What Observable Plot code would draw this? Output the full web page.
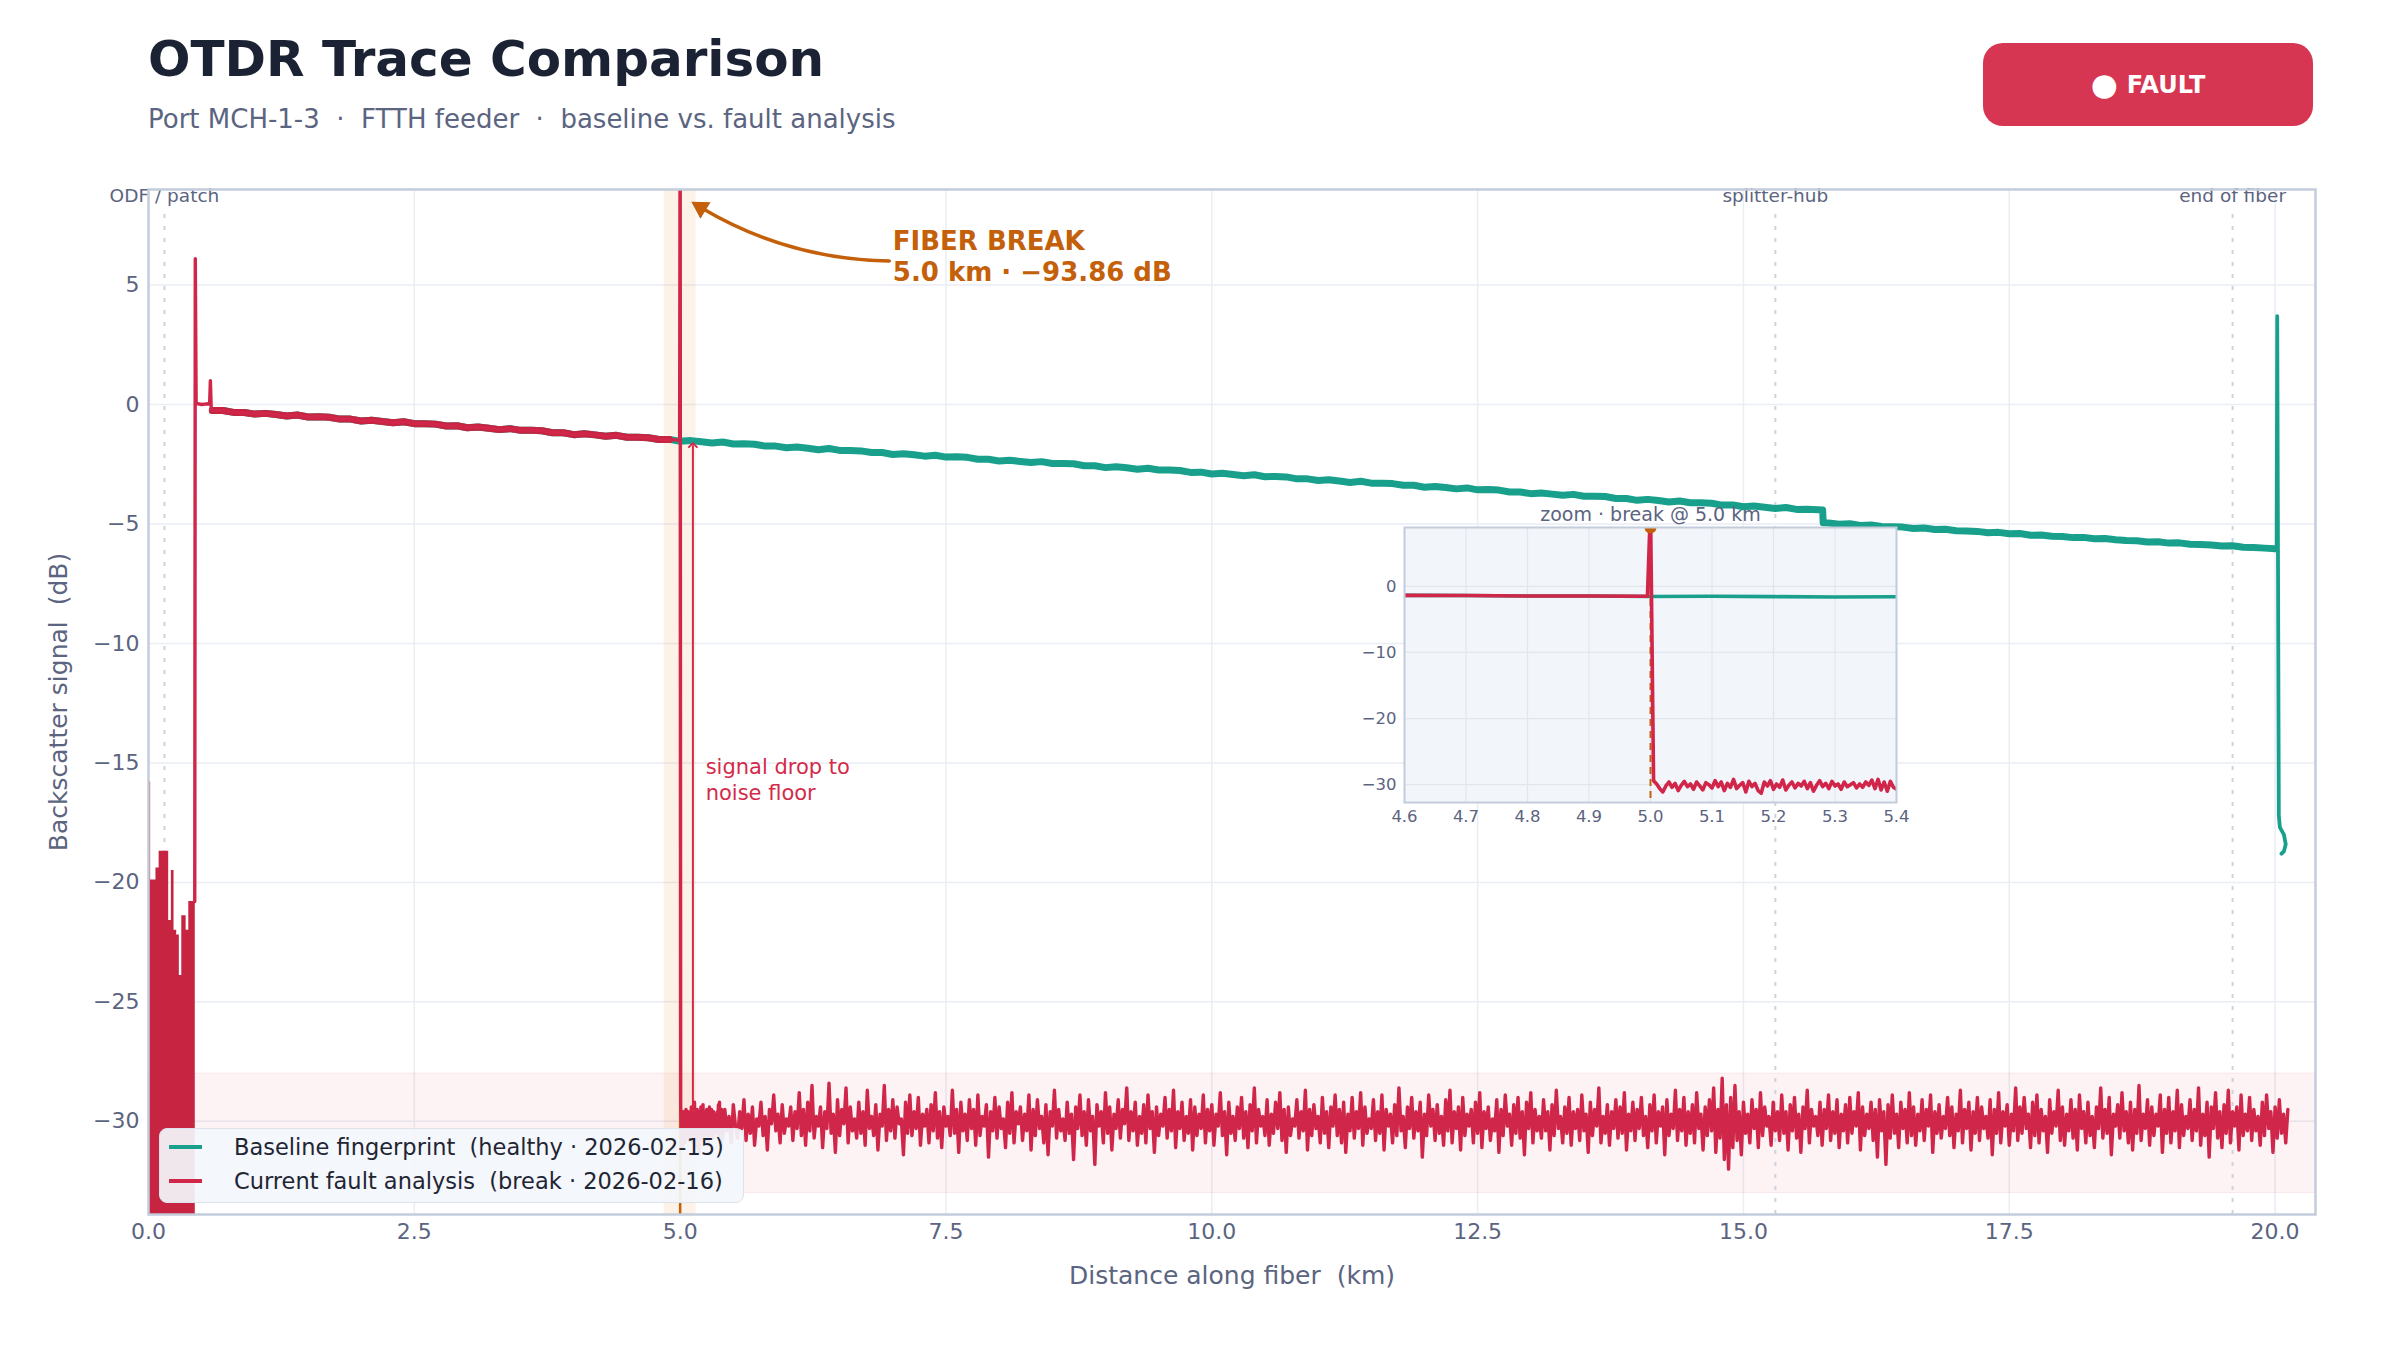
<!DOCTYPE html>
<html>
<head>
<meta charset="utf-8">
<script src="https://cdn.jsdelivr.net/npm/d3@7"></script>
<script src="https://cdn.jsdelivr.net/npm/@observablehq/plot@0.6"></script>
<style>
  html, body { margin: 0; padding: 0; background: #ffffff; }
  #page { position: relative; width: 2400px; height: 1350px; overflow: hidden; font-family: "DejaVu Sans", sans-serif; }
  #title { position: absolute; left: 148px; top: 34px; font-size: 50px; line-height: 50px; font-weight: bold; color: #1b2233; white-space: nowrap; }
  #subtitle { position: absolute; left: 148px; top: 106px; font-size: 26px; line-height: 26px; color: #5b6480; white-space: pre; }
  #badge { position: absolute; left: 1983px; top: 43px; width: 330px; height: 83px; border-radius: 20px; background: #d63651; color: #ffffff; font-weight: bold; font-size: 24px; display: flex; align-items: center; justify-content: center; white-space: pre; }
  #badge .dot { font-size: 31px; line-height: 24px; margin-right: 9px; position: relative; top: -1px; }
  #chart { position: absolute; left: 0; top: 150px; }
  #inset { position: absolute; left: 1354px; top: 497px; }
  #legend { position: absolute; left: 159px; top: 1128px; width: 583px; height: 73px; border: 1.5px solid #dde3ec; border-radius: 8px; background: rgba(243, 246, 251, 0.93); }
  #legend .row { position: absolute; left: 0; height: 34px; line-height: 34px; font-size: 22.5px; color: #1f2533; white-space: pre; }
  #legend .swatch { position: absolute; left: 9px; top: 15px; width: 33px; height: 4px; }
  #legend .label { position: absolute; left: 74px; top: 0; }
</style>
</head>
<body>
<div id="page">
  <div id="title"></div>
  <div id="subtitle"></div>
  <div id="badge"></div>
  <div id="chart"></div>
  <div id="inset"></div>
  <div id="legend"></div>
</div>
<script>
// ---- text ----
const titleText = "OTDR Trace Comparison";
const subtitleText = "Port MCH-1-3  ·  FTTH feeder  ·  baseline vs. fault analysis";
const statusDot = "●";
const statusText = "FAULT";
const seriesNames = [
  "Baseline fingerprint  (healthy · 2026-02-15)",
  "Current fault analysis  (break · 2026-02-16)"
];
const xLabel = "Distance along fiber  (km)";
const yLabel = "Backscatter signal  (dB)";
const breakCallout = "FIBER BREAK\n5.0 km · −93.86 dB";
const dropCallout = "signal drop to\nnoise floor";
const insetTitle = "zoom · break @ 5.0 km";

// ---- axes ----
const xTicks = [0, 2.5, 5, 7.5, 10, 12.5, 15, 17.5, 20];
const yTicks = [5, 0, -5, -10, -15, -20, -25, -30];
const insetXTicks = [4.6, 4.7, 4.8, 4.9, 5.0, 5.1, 5.2, 5.3, 5.4];
const insetYTicks = [0, -10, -20, -30];

// ---- landmarks along the route ----
const landmarkKm = [0.15, 15.3, 19.6];
const landmarkNames = ["ODF / patch", "splitter-hub", "end of fiber"];

// ---- fault location ----
const breakKm = 5.0;
const breakWindowKm = [4.85, 5.15];
const noiseFloorBandDb = [-33, -28];

// ---- callout anchors (km, dB) ----
const breakCalloutAt = {km: 7.0, db: 6.23};
const breakArrow = {fromKm: 6.967, fromDb: 6.01, toKm: 5.194, toDb: 8.245};
const dropArrow = {km: 5.12, fromDb: -29.6, toDb: -1.7};
const dropCalloutAt = {km: 5.24, db: -15.66};

// ---- launch dead zone (sample km, envelope dB) ----
const deadZoneKm = [0, 0.02, 0.07, 0.10, 0.19, 0.215, 0.24, 0.265, 0.29, 0.313, 0.354, 0.379, 0.44];
const deadZoneDb = [-15.8, -19.9, -19.4, -18.7, -21.6, -19.5, -22.0, -22.2, -23.9, -21.4, -22.0, -20.8, -20.8];

// ---- launch connector events (km, dB) ----
const launchKm = [0.435, 0.44, 0.448, 0.50, 0.55, 0.575, 0.582, 0.59];
const launchDb = [-20.8, 6.1, 0.05, 0.0, 0.03, 0.02, 1.0, -0.22];

// ---- fibre backscatter, 0.6 km to 15.7 km, one sample every 0.1 km ----
const spanAStartKm = 0.6;
const spanAStepKm = 0.1;
const spanADb = [
  -0.25,-0.25,-0.33,-0.33,-0.40,-0.37,-0.42,-0.48,-0.44,-0.52,
  -0.51,-0.53,-0.61,-0.61,-0.69,-0.66,-0.71,-0.76,-0.72,-0.80,
  -0.80,-0.82,-0.90,-0.89,-0.97,-0.94,-0.99,-1.05,-1.01,-1.08,
  -1.08,-1.10,-1.18,-1.18,-1.26,-1.22,-1.27,-1.33,-1.29,-1.37,
  -1.37,-1.39,-1.46,-1.46,-1.54,-1.51,-1.56,-1.61,-1.57,-1.65,
  -1.64,-1.66,-1.74,-1.74,-1.81,-1.78,-1.83,-1.89,-1.84,-1.92,
  -1.92,-1.94,-2.01,-2.01,-2.09,-2.06,-2.10,-2.16,-2.12,-2.20,
  -2.19,-2.21,-2.29,-2.29,-2.36,-2.33,-2.38,-2.43,-2.39,-2.47,
  -2.47,-2.48,-2.56,-2.56,-2.64,-2.60,-2.65,-2.71,-2.67,-2.74,
  -2.74,-2.76,-2.84,-2.83,-2.91,-2.88,-2.93,-2.98,-2.94,-3.02,
  -3.01,-3.03,-3.11,-3.11,-3.18,-3.15,-3.20,-3.26,-3.21,-3.29,
  -3.29,-3.31,-3.38,-3.38,-3.46,-3.43,-3.47,-3.53,-3.49,-3.57,
  -3.56,-3.58,-3.66,-3.66,-3.73,-3.70,-3.75,-3.80,-3.76,-3.84,
  -3.84,-3.85,-3.93,-3.93,-4.01,-3.97,-4.02,-4.08,-4.04,-4.11,
  -4.11,-4.13,-4.21,-4.20,-4.28,-4.25,-4.30,-4.35,-4.31,-4.39,
  -4.38,-4.40
];

// ---- splitter-hub step (km, dB) ----
const splitterKm = [15.745, 15.75];
const splitterDb = [-4.41, -4.95];

// ---- fibre backscatter after the splitter, 15.8 km to 20.0 km ----
const spanBStartKm = 15.8;
const spanBStepKm = 0.1;
const spanBDb = [
  -4.96,-5.01,-4.99,-5.06,-5.04,-5.10,-5.11,-5.13,-5.19,-5.17,
  -5.23,-5.22,-5.28,-5.29,-5.31,-5.37,-5.35,-5.41,-5.40,-5.47,
  -5.46,-5.51,-5.52,-5.57,-5.56,-5.62,-5.61,-5.66,-5.69,-5.70,
  -5.75,-5.74,-5.80,-5.79,-5.85,-5.86,-5.88,-5.92,-5.91,-5.97,
  -5.98,-6.01,-6.04
];

// ---- far-end reflection of the healthy fibre (km, dB) ----
const fiberEndKm = [20.015, 20.02, 20.035, 20.045, 20.083, 20.1, 20.083, 20.06];
const fiberEndDb = [-6.08, 3.7, -17.2, -17.7, -18.0, -18.4, -18.7, -18.8];

// ---- break event on the current trace (km, dB) ----
const breakEventKm = [4.995, 5.0];
const breakEventDb = [-1.50, 12.0];

// ---- noise floor just past the break, 5.005 km to 5.400 km every 0.005 km ----
const nearFloorStartKm = 5.005;
const nearFloorStepKm = 0.005;
const nearFloorDb = [
  -29.4,-29.9,-30.6,-31.1,-30.2,-29.6,-30.4,-29.8,-30.9,-30.1,
  -29.5,-30.3,-29.9,-30.7,-29.6,-30.2,-30.8,-29.7,-30.0,-30.5,
  -29.4,-30.3,-29.6,-30.9,-29.8,-30.4,-29.2,-30.6,-30.1,-29.7,
  -31.1,-29.5,-30.3,-29.8,-30.9,-31.3,-29.6,-30.2,-29.4,-30.7,
  -29.9,-30.4,-29.3,-30.8,-30.1,-29.6,-30.5,-29.8,-30.2,-29.5,
  -30.6,-29.7,-31.0,-30.1,-29.4,-30.3,-29.8,-30.6,-29.5,-30.2,
  -29.9,-30.7,-29.6,-30.3,-30.0,-29.7,-30.5,-29.9,-30.4,-29.6,
  -30.1,-29.3,-30.6,-29.2,-30.8,-29.6,-31.0,-29.5,-30.4,-30.7
];

// ---- noise floor to the end of the record, 5.42 km to 20.12 km every 0.02 km ----
const farFloorStartKm = 5.42;
const farFloorStepKm = 0.02;
const farFloorDb = [
  -29.5,-30.4,-29.8,-30.9,-29.3,-30.2,-30.7,-29.6,-30.3,-29.1,-30.8,-29.7,-30.5,-29.4,-31.0,-29.9,
  -30.2,-29.2,-30.6,-29.8,-31.2,-29.5,-30.1,-28.9,-30.4,-29.7,-30.9,-29.3,-30.5,-29.9,-30.2,-29.4,
  -30.8,-29.6,-30.3,-28.8,-30.6,-29.5,-31.0,-29.2,-30.4,-28.5,-30.7,-29.8,-30.2,-29.4,-31.1,-29.6,
  -30.3,-28.4,-30.5,-29.7,-31.3,-29.1,-30.6,-29.5,-30.1,-28.6,-30.9,-29.4,-30.4,-29.9,-30.7,-29.2,
  -30.5,-29.6,-31.0,-28.7,-30.3,-29.8,-30.6,-29.3,-31.2,-29.7,-30.2,-28.5,-30.8,-29.5,-30.4,-29.1,
  -30.7,-29.4,-30.1,-29.9,-31.4,-29.2,-30.5,-28.9,-30.6,-29.6,-30.3,-29.0,-31.0,-29.7,-30.2,-29.5,
  -30.9,-29.3,-30.4,-28.8,-30.7,-29.6,-31.1,-29.4,-30.2,-29.8,-30.6,-28.7,-30.5,-29.5,-31.3,-29.2,
  -30.4,-29.7,-30.8,-29.1,-30.3,-29.5,-31.0,-28.9,-30.6,-29.8,-30.2,-29.3,-31.5,-29.6,-30.4,-29.0,
  -30.7,-29.4,-30.3,-29.9,-31.1,-29.2,-30.5,-28.8,-30.9,-29.6,-30.1,-29.4,-30.8,-29.7,-30.4,-28.9,
  -31.2,-29.5,-30.6,-29.1,-30.3,-29.8,-30.9,-29.3,-31.4,-29.6,-30.2,-28.7,-30.7,-29.5,-30.4,-29.9,
  -30.8,-29.2,-30.5,-29.7,-31.6,-29.4,-30.3,-28.9,-30.6,-29.6,-31.0,-29.1,-30.4,-29.8,-31.8,-29.3,
  -30.2,-29.6,-30.9,-28.8,-30.5,-29.4,-31.2,-29.7,-30.3,-29.1,-30.7,-29.5,-30.1,-28.6,-30.8,-29.6,
  -30.4,-29.2,-31.0,-29.8,-30.5,-29.3,-30.9,-28.9,-30.3,-29.6,-31.3,-29.4,-30.6,-29.7,-30.2,-29.0,
  -30.7,-29.5,-30.4,-28.7,-31.1,-29.6,-30.3,-29.2,-30.8,-29.8,-30.5,-29.1,-31.2,-29.4,-30.6,-29.7,
  -30.3,-28.9,-30.9,-29.5,-30.4,-29.3,-31.0,-29.7,-30.2,-28.8,-30.6,-29.6,-31.4,-29.2,-30.5,-29.8,
  -30.8,-29.4,-30.3,-29.0,-30.7,-29.6,-31.1,-29.3,-30.4,-28.6,-30.9,-29.5,-30.2,-29.8,-30.6,-29.1,
  -31.0,-29.7,-30.5,-29.2,-30.3,-28.8,-30.8,-29.5,-31.3,-29.4,-30.6,-29.9,-30.2,-29.1,-30.7,-29.6,
  -30.4,-28.7,-31.2,-29.5,-30.6,-29.3,-30.3,-29.8,-30.9,-29.0,-30.5,-29.6,-31.1,-29.4,-30.2,-28.9,
  -30.6,-29.5,-30.9,-29.2,-31.3,-29.7,-30.4,-29.0,-30.7,-29.6,-30.3,-28.8,-31.0,-29.4,-30.5,-29.9,
  -30.3,-29.1,-30.8,-29.6,-30.5,-28.9,-31.2,-29.5,-30.2,-29.7,-30.9,-29.3,-30.6,-28.6,-30.4,-29.8,
  -31.1,-29.4,-30.3,-29.0,-30.7,-29.6,-30.4,-29.2,-31.5,-29.7,-30.6,-28.9,-30.2,-29.5,-30.8,-29.3,
  -30.5,-29.8,-31.0,-29.1,-30.4,-28.7,-30.9,-29.6,-30.3,-29.4,-31.2,-29.0,-30.6,-29.7,-30.2,-29.5,
  -30.9,-29.2,-30.5,-28.8,-31.1,-29.6,-30.3,-29.4,-30.8,-29.9,-30.4,-29.1,-31.3,-29.5,-30.6,-28.9,
  -30.2,-29.7,-31.0,-29.3,-30.5,-29.0,-30.7,-29.6,-31.4,-29.2,-30.3,-28.8,-30.9,-29.5,-30.4,-29.8,
  -30.7,-29.1,-30.4,-29.6,-31.2,-29.3,-30.6,-28.7,-30.3,-29.8,-30.9,-29.4,-30.5,-29.0,-31.0,-29.6,
  -30.3,-29.5,-30.8,-28.9,-30.4,-29.7,-31.3,-29.2,-30.6,-29.5,-30.2,-28.6,-30.9,-29.8,-30.5,-29.3,
  -31.0,-29.6,-30.3,-29.1,-30.7,-29.4,-30.5,-28.8,-31.2,-29.7,-30.4,-29.2,-30.8,-29.5,-30.3,-29.0,
  -30.6,-29.8,-31.1,-29.3,-30.4,-28.9,-30.9,-29.6,-30.2,-29.4,-31.4,-29.1,-30.6,-29.7,-30.3,-28.7,
  -30.8,-29.5,-30.4,-29.0,-31.0,-29.6,-30.5,-29.3,-30.9,-28.8,-30.3,-29.7,-31.2,-29.4,-30.6,-29.1,
  -30.4,-28.6,-31.3,-29.5,-30.7,-28.2,-31.6,-29.3,-32.0,-29.0,-31.1,-28.5,-30.8,-29.6,-31.4,-29.2,
  -30.5,-29.7,-30.9,-29.1,-30.3,-29.5,-31.1,-28.8,-30.6,-29.4,-30.2,-29.8,-31.0,-29.2,-30.4,-29.6,
  -30.8,-28.9,-30.5,-29.6,-31.2,-29.3,-30.4,-29.0,-30.7,-29.7,-31.3,-29.4,-30.3,-28.7,-30.9,-29.5,
  -30.2,-29.8,-30.6,-29.2,-31.0,-29.5,-30.3,-28.9,-30.8,-29.6,-30.5,-29.1,-31.1,-29.7,-30.4,-29.3,
  -30.9,-29.0,-30.5,-29.6,-30.2,-28.8,-31.2,-29.4,-30.6,-29.7,-30.3,-29.2,-30.8,-29.5,-31.5,-29.1,
  -30.4,-29.6,-31.8,-29.3,-30.7,-28.9,-30.5,-29.7,-31.1,-29.2,-30.3,-29.5,-30.9,-28.8,-30.6,-29.4,
  -31.0,-29.7,-30.4,-29.1,-30.8,-29.5,-30.2,-28.9,-31.3,-29.6,-30.5,-29.3,-30.7,-29.8,-30.3,-29.0,
  -30.6,-29.4,-31.1,-29.7,-30.4,-28.7,-30.9,-29.5,-30.3,-29.2,-31.2,-29.6,-30.5,-29.0,-30.8,-29.4,
  -30.3,-29.8,-30.7,-29.1,-31.4,-29.5,-30.5,-28.8,-30.9,-29.6,-30.2,-29.3,-31.0,-29.7,-30.4,-28.6,
  -30.8,-29.4,-30.5,-29.0,-30.3,-29.7,-31.1,-29.2,-30.6,-28.9,-30.9,-29.5,-30.4,-29.8,-31.3,-29.1,
  -30.5,-29.6,-30.2,-28.7,-30.8,-29.4,-31.0,-29.7,-30.4,-29.1,-30.7,-29.5,-31.2,-28.9,-30.3,-29.6,
  -30.9,-29.2,-30.6,-29.8,-31.1,-29.4,-30.3,-28.6,-30.7,-29.5,-30.5,-29.0,-31.4,-29.7,-30.2,-29.3,
  -30.7,-28.8,-30.4,-29.6,-30.9,-29.2,-31.2,-29.5,-30.5,-28.5,-30.8,-29.7,-30.3,-29.1,-31.0,-29.4,
  -30.6,-29.7,-30.2,-28.9,-31.3,-29.5,-30.5,-29.0,-30.9,-29.6,-30.4,-28.7,-31.1,-29.3,-30.6,-29.8,
  -30.3,-29.1,-30.8,-29.5,-30.4,-28.6,-31.0,-29.7,-30.6,-29.2,-31.5,-29.4,-30.3,-28.8,-30.7,-29.6,
  -31.1,-29.3,-30.5,-28.7,-30.9,-29.6,-30.2,-29.4,-31.2,-28.9,-30.6,-29.7,-30.4,-29.0,-30.8,-29.5,
  -30.4,-29.8,-31.0,-29.2,-30.6,-28.9,-30.3,-29.6,-31.3,-29.4,-30.7,-29.1,-30.5,-29.7,-30.9,-29.5
];

// ---- palette ----
const teal = "#19a08c";
const crimson = "#cf2649";
const deadZoneRed = "#c62441";
const amber = "#c4600a";
const slate = "#5b6480";
const gridColor = "#e9edf4";
const frameColor = "#c3ccdb";

// ---- assemble traces ----
const sampled = (start, step, values) => values.map((db, i) => ({km: +(start + i * step).toFixed(4), db}));
const paired = (kms, dbs) => kms.map((km, i) => ({km, db: dbs[i]}));

const spanA = sampled(spanAStartKm, spanAStepKm, spanADb);
const spanB = sampled(spanBStartKm, spanBStepKm, spanBDb);

const baselineTrace = [
  ...spanA,
  ...paired(splitterKm, splitterDb),
  ...spanB,
  ...paired(fiberEndKm, fiberEndDb)
];

const faultSpan = spanA.filter(d => d.km < breakEventKm[0]);
const faultTrace = [
  ...paired(launchKm, launchDb),
  ...faultSpan,
  ...paired(breakEventKm, breakEventDb),
  ...sampled(nearFloorStartKm, nearFloorStepKm, nearFloorDb),
  ...sampled(farFloorStartKm, farFloorStepKm, farFloorDb)
];

const deadZone = paired(deadZoneKm, deadZoneDb);
const landmarks = landmarkKm.map((km, i) => ({km, name: landmarkNames[i]}));

const xDomain = [0, 20.38];
const yDomain = [-33.9, 9.0];
const minus = d => (d < 0 ? "\u2212" + Math.abs(d) : String(d));

// ---- header ----
document.getElementById("title").textContent = titleText;
document.getElementById("subtitle").textContent = subtitleText;
const badge = document.getElementById("badge");
const dotSpan = document.createElement("span");
dotSpan.className = "dot";
dotSpan.textContent = statusDot;
badge.append(dotSpan, document.createTextNode(statusText));

// ---- main chart ----
const chart = Plot.plot({
  width: 2400,
  height: 1200,
  marginTop: 39,
  marginRight: 85,
  marginBottom: 136,
  marginLeft: 148,
  style: {fontFamily: "DejaVu Sans", fontSize: "22px", color: slate, background: "transparent", overflow: "visible"},
  x: {domain: xDomain},
  y: {domain: yDomain},
  marks: [
    Plot.gridX(xTicks, {stroke: gridColor, strokeOpacity: 1, strokeWidth: 1.5}),
    Plot.gridY(yTicks, {stroke: gridColor, strokeOpacity: 1, strokeWidth: 1.5}),
    Plot.rect([noiseFloorBandDb], {x1: xDomain[0], x2: xDomain[1], y1: d => d[0], y2: d => d[1], fill: "#d62c4a", fillOpacity: 0.06, stroke: "#d62c4a", strokeOpacity: 0.08}),
    Plot.rect([breakWindowKm], {x1: d => d[0], x2: d => d[1], y1: yDomain[0], y2: yDomain[1], fill: "#e8903a", fillOpacity: 0.12}),
    Plot.ruleX(landmarks, {x: "km", y1: yDomain[0], y2: 8.2, stroke: "#cdd3de", strokeWidth: 2, strokeDasharray: "4,8"}),
    Plot.text(landmarks, {x: "km", text: "name", frameAnchor: "top", lineAnchor: "top", dy: -1, fontSize: 18.5, fill: slate}),
    Plot.ruleX([breakKm], {stroke: amber, strokeWidth: 2.5}),
    // healthy trace: a wide pass for the backscatter spans, then the full trace
    Plot.line([...spanA, ...paired(splitterKm, splitterDb), ...spanB], {x: "km", y: "db", stroke: teal, strokeWidth: 7, clip: true}),
    Plot.line(baselineTrace, {x: "km", y: "db", stroke: teal, strokeWidth: 3.8, clip: true}),
    // current trace
    Plot.areaY(deadZone, {x: "km", y1: yDomain[0], y2: "db", curve: "step-after", fill: deadZoneRed, clip: true}),
    Plot.line(faultSpan, {x: "km", y: "db", stroke: deadZoneRed, strokeWidth: 7, clip: true}),
    Plot.line(faultTrace, {x: "km", y: "db", stroke: crimson, strokeWidth: 3.4, clip: true}),
    // callouts
    Plot.link([dropArrow], {x1: "km", x2: "km", y1: "fromDb", y2: "toDb", stroke: "#d42a4a", strokeWidth: 2, markerStart: "arrow", markerEnd: "arrow"}),
    Plot.text([dropCallout], {x: dropCalloutAt.km, y: dropCalloutAt.db, textAnchor: "start", lineAnchor: "middle", lineHeight: 1.24, fontSize: 21, fill: "#d42a4a"}),
    Plot.arrow([breakArrow], {x1: "fromKm", y1: "fromDb", x2: "toKm", y2: "toDb", bend: 15, stroke: amber, strokeWidth: 3.5, headLength: 0}),
    Plot.dot([breakArrow], {x: "toKm", y: "toDb", symbol: "triangle", r: 6.5, rotate: -58, fill: amber, stroke: amber, strokeWidth: 1}),
    Plot.text([breakCallout], {x: breakCalloutAt.km, y: breakCalloutAt.db, textAnchor: "start", lineAnchor: "middle", lineHeight: 1.19, fontSize: 26, fontWeight: "bold", fill: amber}),
    Plot.frame({stroke: frameColor, strokeWidth: 2.5}),
    Plot.axisX(xTicks, {tickSize: 0, tickPadding: 9, tickFormat: d3.format(".1f"), label: null, fontSize: 22}),
    Plot.axisY(yTicks, {tickSize: 0, tickPadding: 9, tickFormat: minus, label: null, fontSize: 22}),
    Plot.text([xLabel], {frameAnchor: "bottom", dy: 69, fontSize: 25, fill: slate}),
    Plot.text([yLabel], {frameAnchor: "left", textAnchor: "middle", dx: -90, rotate: -90, fontSize: 25, fill: slate})
  ]
});
document.getElementById("chart").append(chart);

// ---- inset: close-up of the break ----
const inWindow = d => d.km >= 4.55 && d.km <= 5.45;
const insetDomainY = [-32.7, 8.9];
const inset = Plot.plot({
  width: 562,
  height: 335,
  marginTop: 30,
  marginRight: 20,
  marginBottom: 30,
  marginLeft: 50,
  style: {fontFamily: "DejaVu Sans", fontSize: "16.5px", color: slate, background: "transparent", overflow: "visible"},
  x: {domain: [4.6, 5.4]},
  y: {domain: insetDomainY},
  marks: [
    Plot.frame({fill: "#f2f5fa"}),
    Plot.gridX(insetXTicks, {stroke: "#e1e6ee", strokeOpacity: 1, strokeWidth: 1.2}),
    Plot.gridY(insetYTicks, {stroke: "#e1e6ee", strokeOpacity: 1, strokeWidth: 1.2}),
    Plot.ruleX([breakKm], {stroke: amber, strokeWidth: 2, strokeDasharray: "7,5"}),
    Plot.line(baselineTrace.filter(inWindow), {x: "km", y: "db", stroke: teal, strokeWidth: 3.6, clip: true}),
    Plot.line(faultTrace.filter(inWindow), {x: "km", y: "db", stroke: "#d1264a", strokeWidth: 3.6, clip: true}),
    Plot.dot([breakKm], {x: d => d, y: insetDomainY[1], r: 6, fill: amber, clip: true}),
    Plot.frame({stroke: frameColor, strokeWidth: 2}),
    Plot.axisX(insetXTicks, {tickSize: 0, tickPadding: 8, tickFormat: d3.format(".1f"), label: null}),
    Plot.axisY(insetYTicks, {tickSize: 0, tickPadding: 8, tickFormat: minus, label: null}),
    Plot.text([insetTitle], {frameAnchor: "top", dy: -20, fontSize: 19, fill: slate})
  ]
});
document.getElementById("inset").append(inset);

// ---- legend ----
const legend = document.getElementById("legend");
[teal, crimson].forEach((color, i) => {
  const row = document.createElement("div");
  row.className = "row";
  row.style.top = (1 + i * 34) + "px";
  const sw = document.createElement("span");
  sw.className = "swatch";
  sw.style.background = color;
  const lab = document.createElement("span");
  lab.className = "label";
  lab.textContent = seriesNames[i];
  row.append(sw, lab);
  legend.append(row);
});
</script>
</body>
</html>
